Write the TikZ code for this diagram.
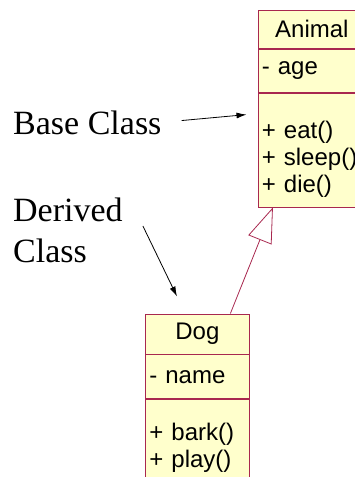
\documentclass[tikz,border=0pt]{standalone}
\usepackage{fontspec}
\setmainfont{Liberation Serif}
\newfontfamily\umlfont{Liberation Sans}
\usetikzlibrary{
arrows.meta,
positioning
}
\definecolor{umlline}{HTML}{A8284F}
\definecolor{umlfill}{HTML}{FFFFCC}
\newcommand{\opslist}[1]{\parbox[c][100pt][t]{100pt}{\raggedright\vspace*{21pt}#1}}

\begin{document}
\begin{tikzpicture}[
x=1pt, y=-1pt,
head/.style={
rectangle,
draw=umlline,
fill=umlfill,
line width=0.8pt,
minimum width=112pt,
inner sep=0pt,
font=\umlfont\fontsize{24}{27}\selectfont
},
attr/.style={
head,
text width=104pt,
inner xsep=4pt,
align=left
},
lbl/.style={
inner sep=0pt,
font=\fontsize{34}{41}\selectfont
},
pointer/.style={-{Latex[length=10pt,width=6pt]}, line width=0.8pt},
inherit/.style={-{Triangle[open, length=35pt, width=25pt]}, draw=umlline, line width=0.8pt}
]

\useasboundingbox (0,0) rectangle (355,477);

\node[head, minimum height=38pt, anchor=north west] (animal) at (257.5,10) {Animal\hspace*{4pt}};
\node[attr, minimum height=43pt, below=0pt of animal] (animalattr) {- age};
\node[attr, minimum height=114pt, below=0pt of animalattr] (animalops)
{\opslist{+ eat()\\+ sleep()\\+ die()}};

\node[head, minimum width=104pt, minimum height=40pt, anchor=north west] (dog) at (145,313.5) {Dog};
\node[attr, minimum width=104pt, text width=96pt, minimum height=44pt, below=0pt of dog] (dogattr) {- name};
\node[attr, minimum width=104pt, text width=96pt, minimum height=106pt, below=0pt of dogattr] (dogops)
{\opslist{+ bark()\\+ play()}};

\node[lbl, anchor=base west] (baselbl) at (13,134) {Base Class};
\node[lbl, align=left, anchor=north west] (derivedlbl) at (13,198) {Derived\\Class};

\coordinate (basetip) at ([xshift=-11pt,yshift=-22pt]animalops.north west);
\coordinate (dogtip) at ([xshift=32pt,yshift=17pt]dog.north west);

\draw[pointer, shorten <=20pt] (baselbl.east) -- (basetip);
\draw[pointer] ([xshift=20pt,yshift=-28pt]derivedlbl.north east) -- (dogtip);
\draw[inherit] ([xshift=33pt]dog.north) -- ([xshift=-41pt]animalops.south);

\end{tikzpicture}
\end{document}
